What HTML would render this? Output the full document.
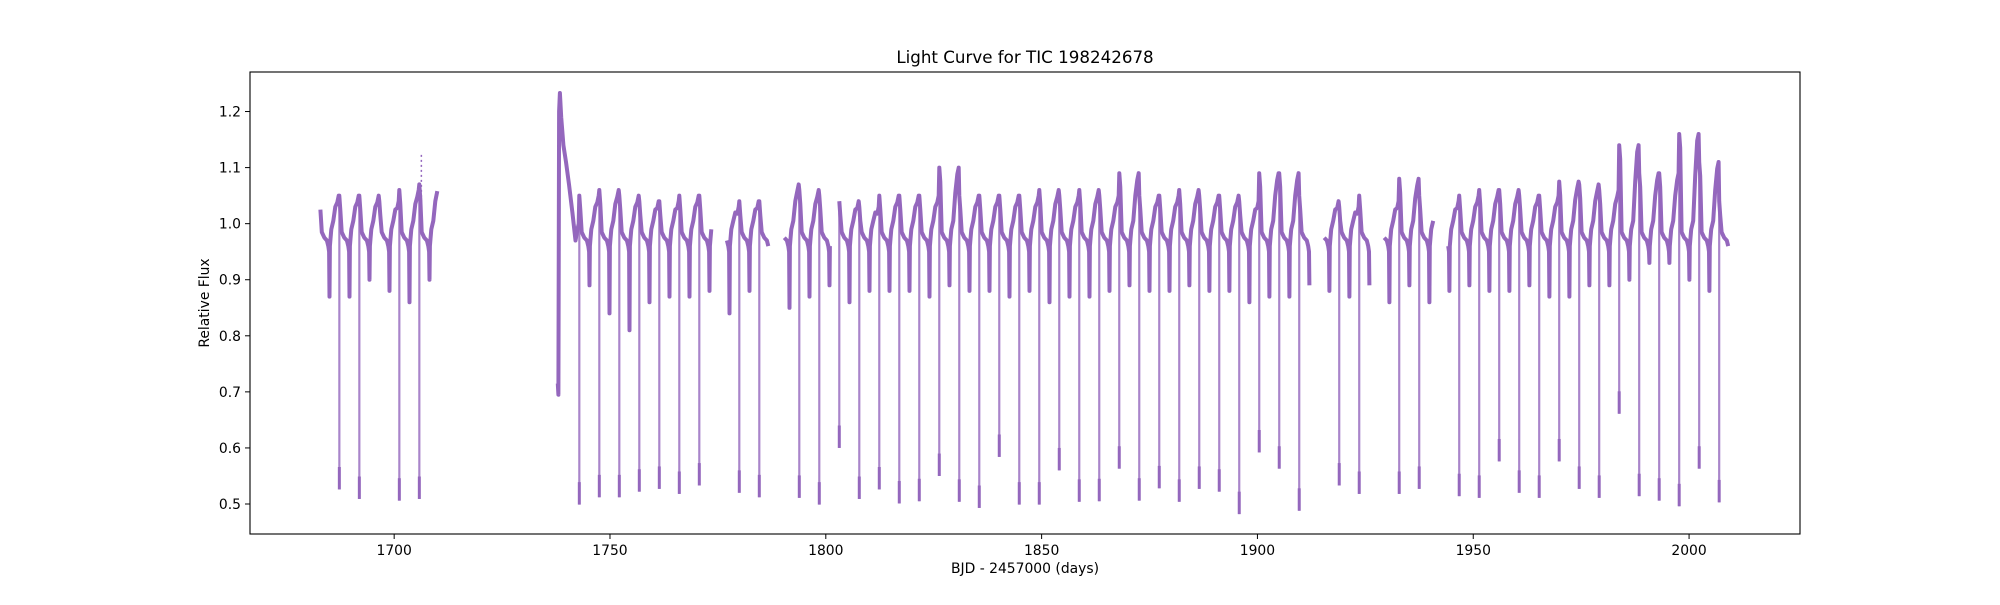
<!DOCTYPE html>
<html><head><meta charset="utf-8"><style>
html,body{margin:0;padding:0;background:#fff;}
svg text{font-family:"DejaVu Sans","Liberation Sans",sans-serif;fill:#000;}
</style></head><body>
<svg id="chart" width="2000" height="600" xmlns="http://www.w3.org/2000/svg">
<rect x="0" y="0" width="2000" height="600" fill="#fff"/>
<text x="1025" y="63" font-size="16.7" text-anchor="middle">Light Curve for TIC 198242678</text>
<g id="plot"></g>
<g id="xaxis"></g>
<g id="yaxis"></g>
<rect x="250" y="72" width="1550" height="462" fill="none" stroke="#000" stroke-width="1.1"/>
<text x="1025" y="573" font-size="13.9" text-anchor="middle">BJD - 2457000 (days)</text>
<text x="0" y="0" font-size="13.9" text-anchor="middle" transform="translate(209,303) rotate(-90)">Relative Flux</text>
</svg>
<script>
// ---- data ----
const xTicks = [1700, 1750, 1800, 1850, 1900, 1950, 2000];
const yTicks = [0.5, 0.6, 0.7, 0.8, 0.9, 1.0, 1.1, 1.2];
const xDomain = [1666.6, 2025.7];
const yDomain = [0.4465, 1.2705];
const dipEpoch = 1687.3;
const dipPeriod = 4.633;
// minimum flux of the deep eclipse for each cycle (null = no data)
const dipMin = [0.526,0.509,null,0.506,0.509,null,null,null,null,null,null,null,0.499,0.512,0.512,0.522,
 0.527,0.518,0.533,null,0.520,0.512,null,0.511,0.499,0.600,0.509,0.526,0.501,0.505,0.550,0.504,0.493,0.584,0.499,0.499,
 0.560,0.504,0.505,0.563,0.506,0.528,0.504,0.527,0.522,0.482,0.592,0.563,0.488,null,0.533,0.518,null,0.518,0.527,null,
 0.514,0.511,0.576,0.520,0.511,0.576,0.527,0.511,0.661,0.514,0.506,0.496,0.563,0.503];
// peak out-of-eclipse flux per cycle
const peakVal = [1.05,1.05,1.04,1.06,1.07,1,1,1,1,1,1,1,1.05,1.06,1.05,1.04,
 1.04,1.05,1.05,1.03,1.04,1.04,1.07,1.06,1.05,1.04,1.03,1.05,1.05,1.05,1.10,1.05,1.05,1.05,1.05,1.06,
 1.05,1.06,1.05,1.09,1.05,1.05,1.06,1.05,1.05,1.04,1.09,1.09,1.05,1.04,1.03,1.05,1.04,1.08,1.05,1.04,
 1.05,1.06,1.06,1.05,1.05,1.075,1.07,1.06,1.14,1.09,1.09,1.16,1.11,1.04];
// secondary minimum per cycle
const secMin = [0.87,0.90,0.88,0.86,0.90,0.9,0.9,0.9,0.9,0.9,0.9,0.9,0.89,0.84,0.81,0.86,
 0.87,0.87,0.88,0.84,0.88,0.86,0.85,0.87,0.89,0.86,0.88,0.88,0.88,0.87,0.89,0.88,0.88,0.87,0.88,0.86,
 0.87,0.87,0.88,0.89,0.88,0.88,0.89,0.88,0.88,0.86,0.87,0.87,0.89,0.88,0.87,0.89,0.86,0.89,0.86,0.88,
 0.89,0.88,0.88,0.89,0.87,0.87,0.89,0.89,0.90,0.93,0.93,0.90,0.88,0.93];
// observed data segments [start, end]
const segStart = [1682.8, 1737.9, 1777.0, 1790.1, 1803.0, 1915.2, 1929.0, 1944.1];
const segEnd   = [1710.3, 1773.5, 1786.8, 1801.2, 1912.1, 1926.0, 1941.1, 2009.1];
// special features: flare at segment start and isolated spike points
const flareT = [1737.9, 1738.05, 1738.2, 1738.4, 1738.7, 1739.2, 1739.8, 1740.5, 1741.3, 1742.0];
const flareF = [0.715, 0.695, 1.20, 1.233, 1.19, 1.14, 1.11, 1.07, 1.02, 0.97];
const spikeT = [1706.3, 1706.3];
const spikeF = [1.03, 1.125];
// ---- template shape (phase within cycle) ----
const phs = [0.00,0.05,0.12,0.25,0.38,0.45,0.49,0.51,0.53,0.60,0.70,0.80,0.90,0.97];
const kind= ['p','p2',0.985,0.975,0.97,0.96,0.95,'s',0.96,0.99,1.005,'ph','p1','p'];

const X0=250,X1=1800,Y0=534,Y1=72;
function sx(t){return X0+(t-xDomain[0])/(xDomain[1]-xDomain[0])*(X1-X0);}
function sy(f){return Y0-(f-yDomain[0])/(yDomain[1]-yDomain[0])*(Y0-Y1);}
const NS='http://www.w3.org/2000/svg';
const plot=document.getElementById('plot');
const color='#9467bd';

function valAt(n,k){
  const p=peakVal[n]??1.04, s=secMin[n]??0.88;
  if(k==='p')return p; if(k==='p2')return p-0.025; if(k==='p1')return p-0.012; if(k==='s')return s;
  if(k==='ph')return (p+1.0)/2+0.005; return k;
}
for(let si=0;si<segStart.length;si++){
  const a=segStart[si], b=segEnd[si];
  const pts=[];
  const n0=Math.floor((a-dipEpoch)/dipPeriod)-1, n1=Math.ceil((b-dipEpoch)/dipPeriod)+1;
  for(let n=n0;n<=n1;n++){
    for(let j=0;j<phs.length;j++){
      const t=dipEpoch+(n+phs[j])*dipPeriod;
      if(t<a||t>b)continue;
      if(si===1 && t<flareT[flareT.length-1])continue;
      const idx=Math.min(Math.max(n,0),peakVal.length-1);
      pts.push([t,valAt(idx,kind[j])]);
    }
  }
  if(si===1){for(let i=flareT.length-1;i>=0;i--)pts.unshift([flareT[i],flareF[i]]);}
  const pl=document.createElementNS(NS,'polyline');
  pl.setAttribute('points',pts.map(p=>sx(p[0]).toFixed(1)+','+sy(p[1]).toFixed(1)).join(' '));
  pl.setAttribute('fill','none');pl.setAttribute('stroke',color);pl.setAttribute('stroke-width','4');
  pl.setAttribute('stroke-linejoin','round');
  
  
  plot.appendChild(pl);
}
dipMin.forEach((m,n)=>{
  if(m===null)return;
  const t=dipEpoch+n*dipPeriod;
  const x=sx(t);
  const top=sy((peakVal[n]??1.04)-0.02);
  const ln=document.createElementNS(NS,'line');
  ln.setAttribute('x1',x);ln.setAttribute('x2',x);
  ln.setAttribute('y1',top);ln.setAttribute('y2',sy(m));
  ln.setAttribute('stroke',color);ln.setAttribute('stroke-width','2.2');ln.setAttribute('stroke-opacity','0.8');
  
  
  plot.appendChild(ln);
  const tip=document.createElementNS(NS,'line');
  tip.setAttribute('x1',x);tip.setAttribute('x2',x);
  tip.setAttribute('y1',sy(m+0.04));tip.setAttribute('y2',sy(m));
  tip.setAttribute('stroke',color);tip.setAttribute('stroke-width','3');
  
  
  plot.appendChild(tip);
});
const sp=document.createElementNS(NS,'line');
sp.setAttribute('x1',sx(spikeT[0]));sp.setAttribute('x2',sx(spikeT[1]));
sp.setAttribute('y1',sy(spikeF[0]));sp.setAttribute('y2',sy(spikeF[1]));
sp.setAttribute('stroke',color);sp.setAttribute('stroke-width','1.5');sp.setAttribute('stroke-dasharray','2,3');


plot.appendChild(sp);

const xa=document.getElementById('xaxis'), ya=document.getElementById('yaxis');
xTicks.forEach(v=>{
  const x=sx(v);
  const tk=document.createElementNS(NS,'line');
  tk.setAttribute('x1',x);tk.setAttribute('x2',x);tk.setAttribute('y1',534);tk.setAttribute('y2',539);
  tk.setAttribute('stroke','#000');tk.setAttribute('stroke-width','1');
  
  
  xa.appendChild(tk);
  const tx=document.createElementNS(NS,'text');
  tx.setAttribute('x',x);tx.setAttribute('y',555);tx.setAttribute('font-size','13.9');tx.setAttribute('text-anchor','middle');
  tx.textContent=v;
  
  
  xa.appendChild(tx);
});
yTicks.forEach(v=>{
  const y=sy(v);
  const tk=document.createElementNS(NS,'line');
  tk.setAttribute('x1',245);tk.setAttribute('x2',250);tk.setAttribute('y1',y);tk.setAttribute('y2',y);
  tk.setAttribute('stroke','#000');tk.setAttribute('stroke-width','1');
  
  
  ya.appendChild(tk);
  const tx=document.createElementNS(NS,'text');
  tx.setAttribute('x',241);tx.setAttribute('y',y+5);tx.setAttribute('font-size','13.9');tx.setAttribute('text-anchor','end');
  tx.textContent=v.toFixed(1);
  
  
  ya.appendChild(tx);
});
</script>
</body></html>
